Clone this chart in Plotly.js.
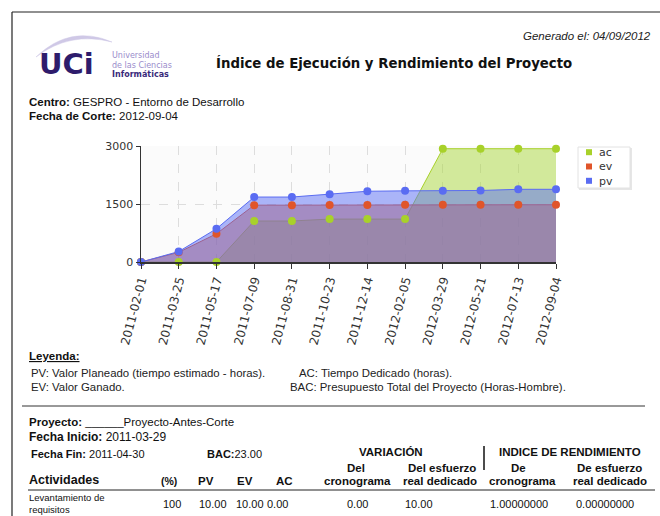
<!DOCTYPE html>
<html>
<head>
<meta charset="utf-8">
<script src="https://cdn.plot.ly/plotly-3.0.1.min.js"></script>
<style>html,body{margin:0;padding:0;background:#fff;}#chart{width:660px;height:516px;}</style>
</head>
<body>
<div id="chart"></div>
<script>
// ---- data ----
const dates = ['2011-02-01','2011-03-25','2011-05-17','2011-07-09','2011-08-31','2011-10-23','2011-12-14','2012-02-05','2012-03-29','2012-05-21','2012-07-13','2012-09-04'];
const pv = [0, 270, 860, 1680, 1680, 1750, 1830, 1840, 1845, 1850, 1880, 1880];
const ev = [0, 250, 730, 1470, 1470, 1475, 1475, 1480, 1480, 1480, 1480, 1480];
const ac = [0, 0, 0, 1060, 1060, 1110, 1110, 1110, 2930, 2930, 2930, 2930];
const seriesNames = ['ac', 'ev', 'pv'];
const yTickVals = [0, 1500, 3000];
const yTickText = ['0', '1500', '3000'];

// ---- layout helpers (pixel -> paper) ----
const ML = 141, MT = 146, PW = 415, PH = 116, W = 660, H = 516;
const px = x => (x - ML) / PW;
const py = y => (MT + PH - y) / PH;

const colors = {ac: '#a8d12a', ev: '#e0552a', pv: '#5a6cf2'};
const fills = {ac: 'rgba(170,215,60,0.5)', ev: 'rgba(225,90,40,0.5)', pv: 'rgba(90,110,245,0.5)'};
const dataBy = {ac: ac, ev: ev, pv: pv};

const traces = [];
seriesNames.forEach(n => {
  traces.push({type: 'scatter', mode: 'lines', x: dates, y: dataBy[n], fill: 'tozeroy',
    fillcolor: fills[n], line: {color: colors[n], width: 1}, showlegend: false, hoverinfo: 'skip'});
});
seriesNames.forEach(n => {
  traces.push({type: 'scatter', mode: 'markers', x: dates, y: dataBy[n], cliponaxis: false,
    marker: {color: colors[n], size: 8}, showlegend: false, hoverinfo: 'skip'});
});

const SANS = 'Liberation Sans, Arial, sans-serif';
const DJ = 'DejaVu Sans, Verdana, sans-serif';
function T(x, y, text, o) {
  o = o || {};
  return {xref: 'paper', yref: 'paper', x: px(x), y: py(y), xanchor: o.a || 'left', yanchor: 'middle',
    align: o.al || 'left', text: text, showarrow: false, borderpad: 0,
    font: {family: o.f || SANS, size: o.s || 11, color: o.c || '#111'}};
}
function L(x0, y0, x1, y1, c, w) {
  return {type: 'line', xref: 'paper', yref: 'paper', x0: px(x0), y0: py(y0), x1: px(x1), y1: py(y1),
    line: {color: c || '#222', width: w || 1}};
}
function R(x0, y0, x1, y1, fill, lc, lw) {
  return {type: 'rect', xref: 'paper', yref: 'paper', x0: px(x0), y0: py(y0), x1: px(x1), y1: py(y1),
    fillcolor: fill, line: {color: lc || fill, width: lw === undefined ? 0 : lw}};
}

const LEG_FS = 11, LEG_Y = 166.5, LEG_STEP = LEG_FS * 1.3;

const annotations = [
  T(652, 36, '<i>Generado el: 04/09/2012</i>', {a: 'right', s: 11.5, c: '#222'}),
  T(38, 64, '<b>UCi</b>', {f: DJ, s: 29, c: '#2e1c6c'}),
  T(111, 56, 'Universidad', {f: DJ, s: 8, c: '#9a8ccb'}),
  T(111, 65, 'de las Ciencias', {f: DJ, s: 8, c: '#9a8ccb'}),
  T(111, 74, '<b>Informáticas</b>', {f: DJ, s: 8, c: '#3a2a7a'}),
  T(215, 63, '<b>Índice de Ejecución y Rendimiento del Proyecto</b>', {f: DJ, s: 13.3, c: '#111'}),
  T(28, 102, '<b>Centro:</b> GESPRO - Entorno de Desarrollo', {s: 11.5}),
  T(28, 116, '<b>Fecha de Corte:</b> 2012-09-04', {s: 11.5}),
  // legend (manual, one text block)
  T(598, LEG_Y, seriesNames.join('<br>'), {f: DJ, s: LEG_FS, c: '#333'}),
  // report legend
  T(28, 356, '<b><u>Leyenda:</u></b>', {s: 11.5}),
  T(30, 373, 'PV: Valor Planeado (tiempo estimado - horas).', {s: 11.4, c: '#222'}),
  T(298, 373, 'AC: Tiempo Dedicado (horas).', {s: 11.4, c: '#222'}),
  T(30, 387, 'EV: Valor Ganado.', {s: 11.4, c: '#222'}),
  T(289, 387, 'BAC: Presupuesto Total del Proyecto (Horas-Hombre).', {s: 11.4, c: '#222'}),
  T(28, 422, '<b>Proyecto:</b> ______Proyecto-Antes-Corte', {s: 11.5}),
  T(28, 437, '<b>Fecha Inicio:</b> 2011-03-29', {s: 12}),
  T(30, 454, '<b>Fecha Fin:</b> 2011-04-30', {s: 11}),
  T(206, 454, '<b>BAC:</b>23.00', {s: 11}),
  T(391, 452, '<b>VARIACIÓN</b>', {a: 'center', s: 11.5}),
  T(570, 452, '<b>INDICE DE RENDIMIENTO</b>', {a: 'center', s: 11.5}),
  T(356, 468, '<b>Del</b>', {a: 'center', s: 11.5}),
  T(357, 481, '<b>cronograma</b>', {a: 'center', s: 11.5}),
  T(442, 468, '<b>Del esfuerzo</b>', {a: 'center', s: 11.5}),
  T(440, 481, '<b>real dedicado</b>', {a: 'center', s: 11.5}),
  T(518, 468, '<b>De</b>', {a: 'center', s: 11.5}),
  T(522, 481, '<b>cronograma</b>', {a: 'center', s: 11.5}),
  T(609, 468, '<b>De esfuerzo</b>', {a: 'center', s: 11.5}),
  T(610, 481, '<b>real dedicado</b>', {a: 'center', s: 11.5}),
  T(28, 480, '<b>Actividades</b>', {s: 12.5}),
  T(160, 481, '<b>(%)</b>', {s: 10.5}),
  T(197, 481, '<b>PV</b>', {s: 11.5}),
  T(236, 481, '<b>EV</b>', {s: 11.5}),
  T(275, 481, '<b>AC</b>', {s: 11.5}),
  T(28, 503, 'Levantamiento de<br>requisitos', {s: 9.5}),
  T(162, 504, '100', {s: 11}),
  T(198, 504, '10.00', {s: 11}),
  T(235, 504, '10.00', {s: 11}),
  T(266, 504, '0.00', {s: 11}),
  T(346, 504, '0.00', {s: 11}),
  T(404, 504, '10.00', {s: 11}),
  T(489, 504, '1.00000000', {s: 11}),
  T(575, 504, '0.00000000', {s: 11})
];

const shapes = [
  L(12, 12, 660, 12, '#222', 1.2),
  L(12, 12, 12, 516, '#222', 1.2),
  {type: 'path', xref: 'paper', yref: 'paper',
    path: 'M ' + px(36) + ',' + py(57) + ' Q ' + px(70) + ',' + py(24) + ' ' + px(112) + ',' + py(42) +
          ' Q ' + px(70) + ',' + py(31) + ' ' + px(36) + ',' + py(57) + ' Z',
    fillcolor: '#cfc8e6', line: {color: '#cfc8e6', width: 0.5}},
  // legend box
  R(579, 148, 632, 190, '#e6e6e6'),
  R(578, 147, 630, 188, '#ffffff', '#e2e2e2', 1),
  L(22, 406, 645, 406, '#333', 1),
  L(484, 446, 484, 470, '#111', 1.5),
  L(28, 490, 655, 490, '#222', 1)
];
seriesNames.forEach((n, i) => {
  const cy = LEG_Y + (i - 1) * LEG_STEP;
  shapes.push(R(586, cy - 3, 592, cy + 3, colors[n]));
});

const layout = {
  width: W, height: H, autosize: false,
  margin: {l: ML, r: W - ML - PW, t: MT, b: H - MT - PH, pad: 0},
  paper_bgcolor: '#ffffff', plot_bgcolor: '#fbfbfb',
  showlegend: false,
  xaxis: {type: 'category', range: [0, dates.length - 1], showgrid: true, gridcolor: '#dddddd', griddash: 'dash',
    showline: true, linecolor: '#333', linewidth: 1.5, ticks: 'outside', ticklen: 5, tickcolor: '#333',
    tickangle: -75, tickfont: {family: DJ, size: 12, color: '#333'}, zeroline: false, fixedrange: true},
  yaxis: {range: [0, 3000], tickvals: yTickVals, ticktext: yTickText, showgrid: true, gridcolor: '#dddddd', griddash: 'dash',
    showline: true, linecolor: '#333', linewidth: 1.5, ticks: 'outside', ticklen: 4, tickcolor: '#333',
    tickfont: {family: DJ, size: 11, color: '#333'}, zeroline: false, fixedrange: true},
  annotations: annotations,
  shapes: shapes,
  hovermode: false
};

Plotly.newPlot('chart', traces, layout, {displayModeBar: false, staticPlot: true});
</script>
</body>
</html>
